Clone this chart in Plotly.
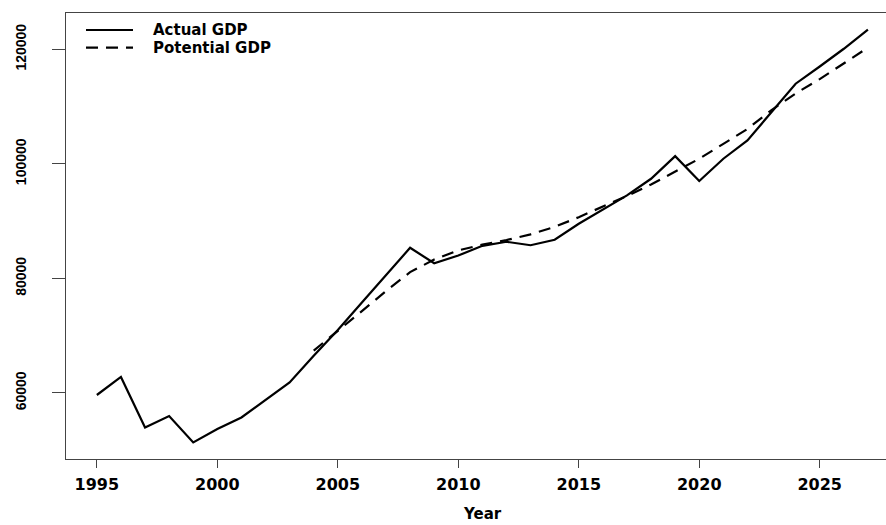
import plotly.graph_objects as go

years_actual = list(range(1995, 2028))
actual_gdp = [59650, 62800, 53990, 55980, 51360, 53700, 55730, 58780, 61850, 66520,
              71000, 75800, 80600, 85350, 82660, 84000, 85700, 86400, 85800, 86750,
              89550, 92000, 94500, 97400, 101350, 97000, 100900, 104100, 109000, 114000,
              117000, 120100, 123460]

years_potential = list(range(2004, 2028))
potential_gdp = [67400, 70800, 74300, 77800, 81100, 83300, 84900, 85900, 86700, 87700,
                 89000, 90700, 92500, 94400, 96400, 98600, 100900, 103500, 106100, 109400,
                 112300, 114800, 117600, 120300]

series_names = ["Actual GDP", "Potential GDP"]
x_ticks = [1995, 2000, 2005, 2010, 2015, 2020, 2025]
y_ticks = [60000, 80000, 100000, 120000]
x_title = "Year"

DASH = "12px,8px"
BOLD_FONT = dict(family="DejaVu Sans", size=16, color="black", weight="bold")
LEG_FONT = dict(family="DejaVu Sans", size=15, color="black", weight="bold")

fig = go.Figure()
fig.add_trace(go.Scatter(x=years_actual, y=actual_gdp, mode="lines",
                         line=dict(color="black", width=2.2), name=series_names[0],
                         showlegend=False))
fig.add_trace(go.Scatter(x=years_potential, y=potential_gdp, mode="lines",
                         line=dict(color="black", width=2.2, dash=DASH), name=series_names[1],
                         showlegend=False))

all_vals = actual_gdp + potential_gdp
lo, hi = min(all_vals), max(all_vals)
ext = 0.04 * (hi - lo)

W, H = 886, 525
ML, MT, MB, MR = 66, 13, 66, 0
pw, ph = W - ML - MR, H - MT - MB

def px_to_paper(px, py):
    return (px - ML) / pw, (H - MB - py) / ph

# manual R-style legend (no box)
for i, (name, dash) in enumerate(zip(series_names, ["solid", DASH])):
    py = 30 + i * 17.7
    x0, y0 = px_to_paper(86, py)
    x1, _ = px_to_paper(133, py)
    fig.add_shape(type="line", xref="paper", yref="paper", x0=x0, x1=x1, y0=y0, y1=y0,
                  line=dict(color="black", width=2.2, dash=dash))
    tx, _ = px_to_paper(152, py)
    fig.add_annotation(xref="paper", yref="paper", x=tx, y=y0, text=name, showarrow=False,
                       xanchor="left", yanchor="middle", font=LEG_FONT, borderpad=0)

tx, ty = px_to_paper(482, 514)
fig.add_annotation(xref="paper", yref="paper", x=tx, y=ty, text=x_title, showarrow=False,
                   xanchor="center", yanchor="middle", font=LEG_FONT, borderpad=0)

fig.update_layout(
    width=W, height=H,
    margin=dict(l=ML, r=MR, t=MT, b=MB, pad=0),
    paper_bgcolor="white", plot_bgcolor="white",
    showlegend=False,
)
fig.update_xaxes(range=[1993.72, 2027.75], tickvals=x_ticks, ticktext=[str(v) for v in x_ticks],
                 showgrid=False, zeroline=False, showline=True, mirror=True,
                 linecolor="#444", linewidth=1, ticks="outside", ticklen=8, tickcolor="#444",
                 tickfont=BOLD_FONT, ticklabelstandoff=3)
fig.update_yaxes(range=[lo - ext, hi + ext], tickvals=y_ticks, ticktext=[str(v) for v in y_ticks],
                 showgrid=False, zeroline=False, showline=True, mirror=False,
                 linecolor="#444", linewidth=1, ticks="outside", ticklen=13, tickcolor="#444",
                 tickangle=-90,
                 tickfont=dict(family="Liberation Sans", size=14, color="black", weight="bold"),
                 ticklabelstandoff=20)

fig.write_html("out.html")
